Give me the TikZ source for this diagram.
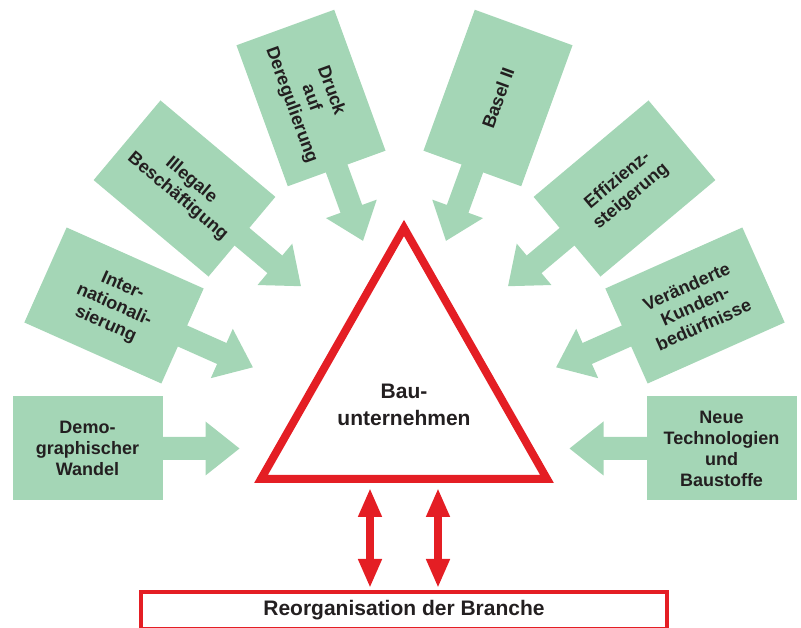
\documentclass[tikz,border=0pt]{standalone}
\usepackage{fontspec}
\setmainfont{Liberation Sans}
\usetikzlibrary{arrows.meta}
\definecolor{boxgreen}{RGB}{164,214,182}
\definecolor{alarmred}{RGB}{228,30,36}
\definecolor{inkgray}{RGB}{35,31,32}
% #1 name, #2 x, #3 y, #4 arrow angle, #5 text rotation, #6 text
\newcommand\factorunit[6]{%
  \coordinate (#1c) at (#2,#3);
  \begin{scope}[shift={(#1c)},rotate=#4]
    \fill[boxgreen] (70,-11.5) -- (118,-11.5) -- (118,-27) -- (152,0)
      -- (118,27) -- (118,11.5) -- (70,11.5) -- cycle;
  \end{scope}
  \node[factor, rotate=#5] (#1) at (#1c) {#6};
}
\begin{document}
\begin{tikzpicture}[x=1pt,y=1pt,
  factor/.style={fill=boxgreen, minimum width=150pt, minimum height=104pt,
    inner sep=0pt, align=center, text=inkgray,
    font=\fontsize{18}{21}\selectfont\bfseries},
  redtip/.style={alarmred, line width=7.5pt,
    {Triangle[width=22pt,length=29pt]}-{Triangle[width=22pt,length=29pt]}},
]
\useasboundingbox (0,0) rectangle (801,628);

% green factors
\factorunit{demo}{87.5}{179.5}{0}{0}{Demo-\\graphischer\\Wandel}
\factorunit{inter}{114}{322.5}{-24}{-24}{Inter-\\nationali-\\sierung}
\factorunit{illegal}{184.5}{439.5}{-40}{-40}{Illegale\\Besch\"aftigung}
\factorunit{druck}{311}{530}{-70}{-70}{Druck\\auf\\Deregulierung}
\factorunit{basel}{498}{530}{-110}{70}{Basel II}
\factorunit{effiz}{624.5}{439.5}{-140}{40}{Effizienz-\\steigerung}
\factorunit{kunden}{695}{322.5}{-156}{24}{Ver\"anderte\\Kunden-\\bed\"urfnisse}
\factorunit{neue}{721.5}{179.5}{180}{0}{Neue\\Technologien\\und\\Baustoffe}

% triangle
\coordinate (apex) at (404,400);
\coordinate (bl) at (261,149);
\coordinate (br) at (547,149);
\draw[alarmred, line width=8pt, line join=miter] (apex) -- (bl) -- (br) -- cycle;
\node[font=\fontsize{21}{27}\selectfont\bfseries, align=center, text=inkgray]
  (bau) at (404,223) {Bau-\\unternehmen};

% bottom box
\node[draw=alarmred, line width=4pt, minimum width=526pt, minimum height=37pt,
  inner sep=0pt, font=\fontsize{21}{25}\selectfont\bfseries, text=inkgray]
  (reorg) at (404,17.5) {Reorganisation der Branche};

% double arrows
\coordinate (la) at (370,140);
\coordinate (lb) at (370,40);
\coordinate (ra) at (438,140);
\coordinate (rb) at (438,40);
\draw[redtip] (la) -- (lb);
\draw[redtip] (ra) -- (rb);
\end{tikzpicture}
\end{document}
